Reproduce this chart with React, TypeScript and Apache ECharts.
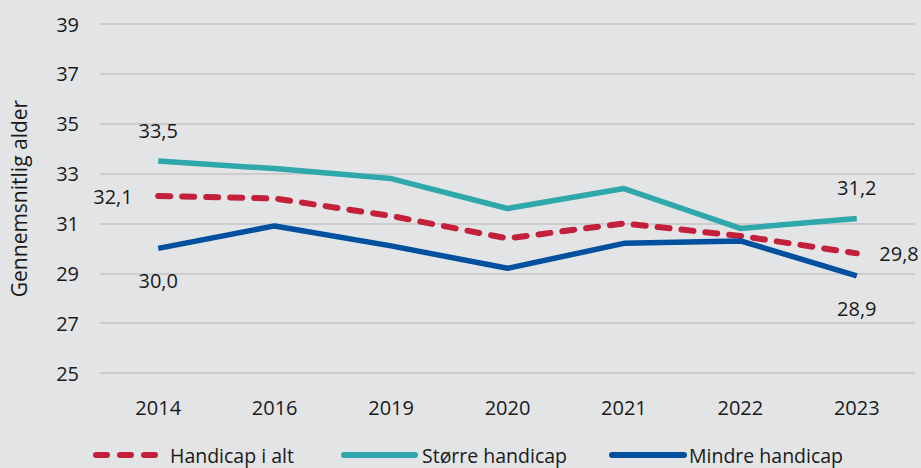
import React, { useEffect, useRef } from "react";
import * as echarts from "echarts";

const categories = ["2014", "2016", "2019", "2020", "2021", "2022", "2023"];
const handicapIAlt = [32.1, 32.0, 31.3, 30.4, 31.0, 30.5, 29.8];
const storreHandicap = [33.5, 33.2, 32.8, 31.6, 32.4, 30.8, 31.2];
const mindreHandicap = [30.0, 30.9, 30.1, 29.2, 30.2, 30.3, 28.9];
const yTicks = { min: 25, max: 39, interval: 2 };
const seriesNames = ["Handicap i alt", "Større handicap", "Mindre handicap"];

const FONT = "'Open Sans', 'Noto Sans', sans-serif";
const TXT = "#1a1a1a";
const FS = 20;

type LabelSpec = { [idx: number]: { position: string; distance: number } };

function withLabels(values: number[], spec: LabelSpec) {
  return values.map((v, i) => {
    const s = spec[i];
    if (!s) return v;
    return {
      value: v,
      label: {
        show: true,
        position: s.position,
        distance: s.distance,
        formatter: (p: any) => Number(p.value).toFixed(1).replace(".", ","),
        fontFamily: FONT,
        fontSize: FS,
        color: TXT,
      },
    };
  });
}

function legendFor(name: string, left: number, width: number, pad: number, dashed: boolean) {
  return {
    data: [name],
    top: 440,
    left,
    itemWidth: width,
    itemHeight: 14,
    itemStyle: { opacity: 0 },
    lineStyle: dashed
      ? { width: 6, type: [11, 13], cap: "round" }
      : { width: 6, cap: "round" },
    textStyle: { color: TXT, fontSize: 19.5, fontFamily: FONT, padding: [0, 0, 0, pad] },
  };
}

export default function App() {
  const ref = useRef<HTMLDivElement>(null);
  useEffect(() => {
    if (!ref.current) return;
    const chart = echarts.init(ref.current, null, { renderer: "svg" });
    const common = {
      type: "line",
      symbol: "circle",
      symbolSize: 1,
      showSymbol: true,
      itemStyle: { color: "rgba(0,0,0,0)", borderWidth: 0 },
    };
    chart.setOption({
      animation: false,
      backgroundColor: "#e3e4e6",
      textStyle: { fontFamily: FONT },
      grid: { left: 99, right: 6, top: 24, bottom: 95 },
      xAxis: {
        type: "category",
        data: categories,
        boundaryGap: true,
        axisLine: { show: false },
        axisTick: { show: false },
        axisLabel: { color: TXT, fontSize: FS, margin: 24, fontFamily: FONT },
      },
      yAxis: {
        type: "value",
        min: yTicks.min,
        max: yTicks.max,
        interval: yTicks.interval,
        name: "Gennemsnitlig alder",
        nameLocation: "middle",
        nameGap: 71,
        nameTextStyle: { color: TXT, fontSize: 21, fontFamily: FONT },
        axisLine: { show: false },
        axisTick: { show: false },
        axisLabel: { color: TXT, fontSize: FS, margin: 21, fontFamily: FONT },
        splitLine: { lineStyle: { color: "#c4c5c7", width: 1.5 } },
      },
      legend: [
        legendFor(seriesNames[0], 88, 66, 3, true),
        legendFor(seriesNames[1], 336, 71, 2, false),
        legendFor(seriesNames[2], 604, 72, 0, false),
      ],
      series: [
        {
          ...common,
          name: seriesNames[0],
          data: withLabels(handicapIAlt, {
            0: { position: "left", distance: 25 },
            6: { position: "right", distance: 22 },
          }),
          color: "#c41f3b",
          lineStyle: { color: "#c41f3b", width: 6, type: [12, 12], cap: "round" },
          z: 3,
        },
        {
          ...common,
          name: seriesNames[1],
          data: withLabels(storreHandicap, {
            0: { position: "top", distance: 20 },
            6: { position: "top", distance: 20 },
          }),
          color: "#2ea8aa",
          lineStyle: { color: "#2ea8aa", width: 5.5 },
        },
        {
          ...common,
          name: seriesNames[2],
          data: withLabels(mindreHandicap, {
            0: { position: "bottom", distance: 22 },
            6: { position: "bottom", distance: 22 },
          }),
          color: "#0050a0",
          lineStyle: { color: "#0050a0", width: 5.5 },
        },
      ],
    });
    return () => chart.dispose();
  }, []);
  return (
    <div
      ref={ref}
      style={{ position: "fixed", left: 0, top: 0, width: 921, height: 468 }}
    />
  );
}
